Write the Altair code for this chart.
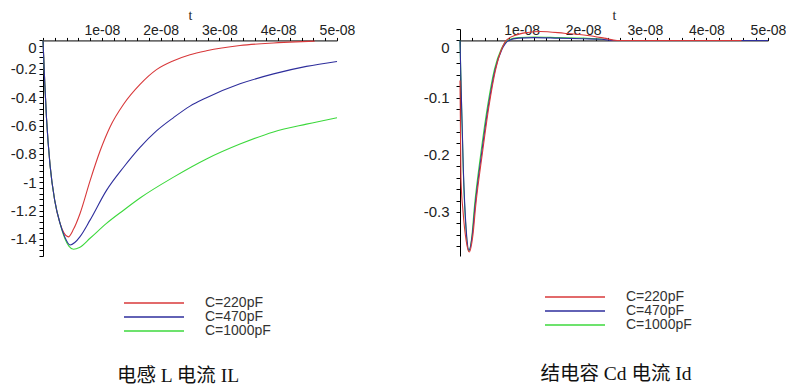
import altair as alt
import pandas as pd

SERIES = ["C=220pF", "C=470pF", "C=1000pF"]
COLORS = ["#d8383a", "#2e2e9c", "#3cd83c"]

# ---- left panel: inductor current IL (time in units of 1e-8 s) ----
IL_220_T = [0, 0.01, 0.03, 0.06, 0.12, 0.20, 0.29, 0.36, 0.43, 0.52, 0.63, 0.80, 0.97, 1.14, 1.37,
            1.65, 1.93, 2.22, 2.50, 2.78, 3.35, 3.92, 4.30, 4.62]
IL_220_V = [0, -0.10, -0.30, -0.55, -0.88, -1.13, -1.29, -1.36, -1.385, -1.33, -1.22, -0.99, -0.78,
            -0.61, -0.45, -0.31, -0.206, -0.143, -0.101, -0.073, -0.036, -0.018, -0.010, -0.005]
IL_470_T = [0, 0.01, 0.03, 0.06, 0.12, 0.20, 0.29, 0.37, 0.46, 0.54, 0.63, 0.80, 1.08, 1.37, 1.65,
            1.93, 2.22, 2.50, 2.78, 3.35, 3.92, 4.48, 5.0]
IL_470_V = [0, -0.10, -0.30, -0.55, -0.88, -1.13, -1.29, -1.385, -1.442, -1.425, -1.383, -1.267,
            -1.057, -0.894, -0.754, -0.638, -0.544, -0.463, -0.404, -0.306, -0.236, -0.183, -0.148]
IL_1000_T = [0, 0.01, 0.03, 0.06, 0.12, 0.20, 0.29, 0.37, 0.44, 0.52, 0.62, 0.80, 1.08, 1.37, 1.65,
             2.22, 2.78, 3.35, 3.92, 4.48, 5.0]
IL_1000_V = [0, -0.10, -0.30, -0.55, -0.88, -1.13, -1.29, -1.395, -1.45, -1.472, -1.46, -1.395,
             -1.29, -1.197, -1.111, -0.964, -0.836, -0.731, -0.645, -0.59, -0.545]

# ---- right panel: junction capacitance current Id (time in units of 1e-8 s) ----
ID_220_T = [0, 0.015, 0.05, 0.10, 0.15, 0.21, 0.255, 0.365, 0.47, 0.58, 0.68, 0.75, 0.90, 1.10,
            1.30, 1.69, 2.07, 2.34, 2.55, 4.57]
ID_220_V = [-0.07, -0.24, -0.30, -0.35, -0.37, -0.34, -0.289, -0.196, -0.115, -0.05, -0.014, 0.0,
            0.009, 0.014, 0.0157, 0.0127, 0.0087, 0.004, 0.0, 0.0]
ID_470_T = [0, 0.02, 0.054, 0.10, 0.147, 0.20, 0.245, 0.353, 0.46, 0.57, 0.68, 0.79, 0.95, 1.2,
            1.6, 2.0, 2.3, 2.5, 5.0]
ID_470_V = [0, -0.09, -0.225, -0.33, -0.367, -0.34, -0.289, -0.196, -0.115, -0.051, -0.016, 0.0,
            0.004, 0.005, 0.004, 0.003, 0.002, 0.0, 0.0]
ID_1000_T = [0, 0.02, 0.054, 0.10, 0.14, 0.19, 0.235, 0.34, 0.45, 0.56, 0.67, 0.77, 0.95, 1.2,
             1.6, 2.0, 2.34]
ID_1000_V = [0, -0.09, -0.23, -0.335, -0.368, -0.345, -0.29, -0.196, -0.113, -0.05, -0.015, 0.0,
             0.005, 0.006, 0.005, 0.004, 0.002]

T_UNIT = 1e-8

# axis ticks / labels
X_MAJOR = [1e-08, 2e-08, 3e-08, 4e-08, 5e-08]
X_MAJOR_LABELS = ["1e-08", "2e-08", "3e-08", "4e-08", "5e-08"]
X_MINOR_STEP = 2e-9
L_Y_DOMAIN = [-1.52, 0.02]
L_Y_MAJOR = [0, -0.2, -0.4, -0.6, -0.8, -1.0, -1.2, -1.4]
L_Y_LABELS = ["0", "-0.2", "-0.4", "-0.6", "-0.8", "-1", "-1.2", "-1.4"]
R_Y_DOMAIN = [-0.377, 0.02]
R_Y_MAJOR = [0, -0.1, -0.2, -0.3]
R_Y_LABELS = ["0", "-0.1", "-0.2", "-0.3"]

L_CAPTION = "电感 L 电流 IL"
R_CAPTION = "结电容 Cd 电流 Id"

W_L, W_R, H = 294, 308, 227


def frame(groups):
    rows = []
    for name, ts, vs in groups:
        for t, v in zip(ts, vs):
            rows.append({"t": t * T_UNIT, "v": v, "C": name})
    return pd.DataFrame(rows)


def label_expr(values, labels, tol):
    s = ""
    for v, l in zip(values, labels):
        s += f"abs(datum.value - ({v!r})) < {tol} ? '{l}' : "
    return s + "''"


x_ticks = [round(i * X_MINOR_STEP, 12) for i in range(26)]
l_y_ticks = [round(-0.04 * i, 4) for i in range(39)]
r_y_ticks = [round(0.02 - 0.02 * i, 4) for i in range(20)]

LABEL_FONT = "Liberation Sans"
zero_baseline = {"condition": {"test": "datum.value == 0", "value": "top"}, "value": "middle"}

# both panels put y = 0 at the same pixel row (that of the right panel)
ZERO_PX = H * R_Y_DOMAIN[1] / (R_Y_DOMAIN[1] - R_Y_DOMAIN[0])
L_SCALE = (H - ZERO_PX) / (0 - L_Y_DOMAIN[0])
L_TOP_PX = ZERO_PX - L_Y_DOMAIN[1] * L_SCALE


def x_axis():
    return alt.Axis(orient="top", offset=-ZERO_PX, values=x_ticks,
                    labelExpr=label_expr(X_MAJOR, X_MAJOR_LABELS, 1e-13),
                    labelOverlap=False, labelFlush=False, labelAlign="center", grid=False,
                    tickSize=3, tickColor="#000", domainColor="#000",
                    labelPadding=0, labelFont=LABEL_FONT, labelFontSize=14, labelColor="#222",
                    title="t", titleFont="Liberation Serif", titleFontSize=14,
                    titleFontWeight="normal", titleColor="#222", titlePadding=1)


def y_axis(major, labels, ticks, pad):
    return alt.Axis(orient="left", values=ticks,
                    labelExpr=label_expr(major, labels, 1e-6),
                    labelBaseline=zero_baseline, labelOverlap=False, grid=False,
                    tickSize=4, tickColor="#000", domainColor="#000",
                    labelPadding=pad, labelFont=LABEL_FONT, labelFontSize=15, labelColor="#222",
                    minExtent=35, maxExtent=35, title=None)


def legend(lx, ly, loff):
    return alt.Legend(orient="none", legendX=lx, legendY=ly, title=None,
                      symbolType="M-30,0H30", symbolSize=4, symbolStrokeWidth=1.3,
                      labelFont=LABEL_FONT, labelFontSize=14, labelColor="#333",
                      labelOffset=loff, rowPadding=-2, direction="vertical")


def panel(df, ydom, yrange, w, yaxis, leg, caption, cap_dx, cap_off):
    return alt.Chart(df).mark_line(strokeWidth=1.1, interpolate="monotone").encode(
        x=alt.X("t:Q", scale=alt.Scale(domain=[0, 5e-8], nice=False, zero=False),
                axis=x_axis()),
        y=alt.Y("v:Q", scale=alt.Scale(domain=ydom, range=yrange, nice=False, zero=False),
                axis=yaxis),
        color=alt.Color("C:N", scale=alt.Scale(domain=SERIES, range=COLORS), legend=leg),
    ).properties(
        width=w, height=H,
        title=alt.TitleParams(caption, orient="bottom", anchor="middle",
                              baseline="top", offset=cap_off, dx=cap_dx,
                              font="Liberation Serif, Noto Sans CJK SC", fontSize=19.5,
                              fontWeight="normal", color="#111"),
    )


df_left = frame([(SERIES[0], IL_220_T, IL_220_V),
                 (SERIES[2], IL_1000_T, IL_1000_V),
                 (SERIES[1], IL_470_T, IL_470_V)])
df_right = frame([(SERIES[2], ID_1000_T, ID_1000_V),
                  (SERIES[1], ID_470_T, ID_470_V),
                  (SERIES[0], ID_220_T, ID_220_V)])

left = panel(df_left, L_Y_DOMAIN, [H, L_TOP_PX], W_L,
             y_axis(L_Y_MAJOR, L_Y_LABELS, l_y_ticks, 3),
             legend(104, 267, 44), L_CAPTION, -12, 29)
right = panel(df_right, R_Y_DOMAIN, [H, 0], W_R,
              y_axis(R_Y_MAJOR, R_Y_LABELS, r_y_ticks, 7),
              legend(108, 261, 44), R_CAPTION, 2, 33)

chart = alt.hconcat(left, right, spacing=68).resolve_legend(color="independent").configure_view(
    stroke=None).properties(padding=0, background="white")

chart.save("out.html", embed_options={"renderer": "svg", "actions": False})
